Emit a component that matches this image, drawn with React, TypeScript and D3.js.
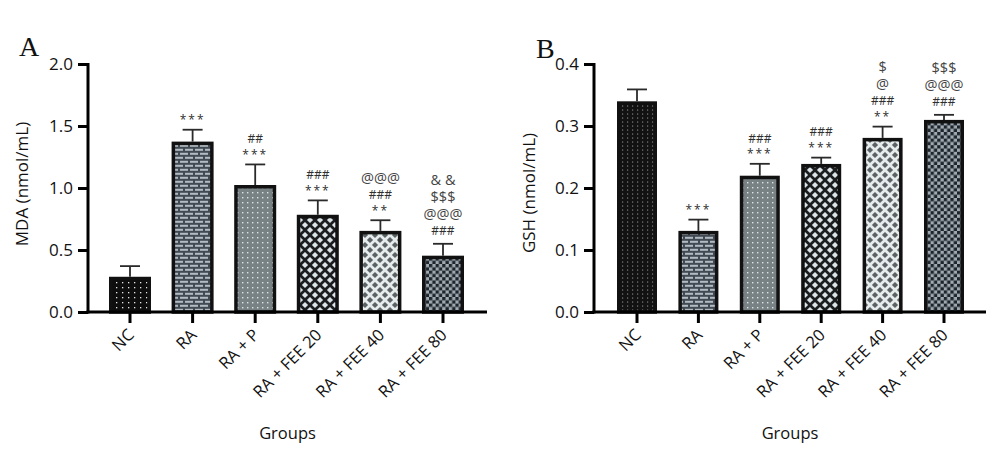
import * as d3 from 'd3'
import { useEffect, useRef } from 'react'

const groups = ['NC', 'RA', 'RA + P', 'RA + FEE 20', 'RA + FEE 40', 'RA + FEE 80']
const fills = ['ncA', 'brick', 'dotGray', 'diaDark', 'diaLight', 'checker']

const mdaMean = [0.27, 1.36, 1.01, 0.77, 0.64, 0.44]
const mdaSem = [0.10, 0.11, 0.18, 0.13, 0.10, 0.11]
const mdaMarks = [[], ['***'], ['***', '##'], ['***', '###'], ['**', '###', '@@@'], ['###', '@@@', '$$$', '& &']]
const mdaTicks = [0, 0.5, 1.0, 1.5, 2.0]

const gshMean = [0.337, 0.128, 0.217, 0.236, 0.278, 0.307]
const gshSem = [0.022, 0.021, 0.022, 0.013, 0.021, 0.011]
const gshMarks = [[], ['***'], ['***', '###'], ['***', '###'], ['**', '###', '@', '$'], ['###', '@@@', '$$$']]
const gshTicks = [0, 0.1, 0.2, 0.3, 0.4]

const FONT = '"Open Sans", "Noto Sans", sans-serif'

type Panel = {
    letter: string
    title: string
    mean: number[]
    sem: number[]
    marks: string[][]
    ticks: number[]
    ncFill: string
    axisX: number
    axisEnd: number
    bandStart: number
    step: number
    barWidth: number
    letterX: number
    letterY: number
    titleX: number
    titleY: number
}

function addPatterns(defs: d3.Selection<SVGDefsElement, unknown, null, undefined>) {
    const pat = (id: string, w: number, h: number, bg: string) => {
        const p = defs.append('pattern').attr('id', id).attr('patternUnits', 'userSpaceOnUse')
            .attr('width', w).attr('height', h)
        p.append('rect').attr('width', w).attr('height', h).attr('fill', bg)
        return p
    }
    const diamond = (cx: number, cy: number, r: number) =>
        `${cx},${cy - r} ${cx + r},${cy} ${cx},${cy + r} ${cx - r},${cy}`

    // NC: white dots on black (sparse for MDA, dense grey for GSH)
    pat('ncA', 6, 5, '#0e0e0e').append('rect').attr('x', 2).attr('y', 2)
        .attr('width', 1.3).attr('height', 1.3).attr('fill', '#e6e6e6')
    pat('ncB', 5, 4, '#121212').append('rect').attr('x', 2).attr('y', 1.5)
        .attr('width', 1.2).attr('height', 1.1).attr('fill', '#8a8a8a')

    // RA: light bricks
    const b = pat('brick', 10, 8, '#414a53')
    b.append('rect').attr('x', 0).attr('y', 0.8).attr('width', 8).attr('height', 2).attr('fill', '#b2bbc2')
    b.append('rect').attr('x', 5).attr('y', 4.8).attr('width', 8).attr('height', 2).attr('fill', '#b2bbc2')
    b.append('rect').attr('x', -5).attr('y', 4.8).attr('width', 8).attr('height', 2).attr('fill', '#b2bbc2')

    // RA + P: pale dots on grey
    pat('dotGray', 5, 5, '#788184').append('rect').attr('x', 2).attr('y', 2)
        .attr('width', 1.4).attr('height', 1.4).attr('fill', '#dfe4e4')

    // diamonds
    const dd = pat('diaDark', 10, 10, '#1b1d1f')
    const dl = pat('diaLight', 10, 10, '#e6ebeb')
    ;[[5, 5], [0, 0], [10, 0], [0, 10], [10, 10]].forEach(([x, y]) => {
        dd.append('polygon').attr('points', diamond(x, y, 3.1)).attr('fill', '#dce4e7')
        dl.append('polygon').attr('points', diamond(x, y, 3.1)).attr('fill', '#5a6265')
    })

    // RA + FEE 80: checkerboard
    const c = pat('checker', 6.6, 6.6, '#a0a9b1')
    c.append('rect').attr('width', 3.3).attr('height', 3.3).attr('fill', '#1d242a')
    c.append('rect').attr('x', 3.3).attr('y', 3.3).attr('width', 3.3).attr('height', 3.3).attr('fill', '#1d242a')
}

function drawPanel(svg: d3.Selection<SVGSVGElement, unknown, null, undefined>, p: Panel) {
    const y0 = 312
    const yTop = 64
    const g = svg.append('g')

    const xScale = d3.scaleBand().domain(groups)
        .range([p.bandStart, p.bandStart + p.step * groups.length])
        .paddingInner(1 - p.barWidth / p.step).paddingOuter((1 - p.barWidth / p.step) / 2)
    const yScale = d3.scaleLinear().domain([0, p.ticks[p.ticks.length - 1]]).range([y0, yTop])

    // bars
    g.append('g').selectAll('rect')
        .data(groups)
        .enter()
        .append('rect')
        .attr('x', d => xScale(d)!)
        .attr('width', xScale.bandwidth())
        .attr('y', (d, i) => yScale(p.mean[i]))
        .attr('height', (d, i) => y0 - yScale(p.mean[i]))
        .attr('fill', (d, i) => `url(#${i === 0 ? p.ncFill : fills[i]})`)
        .attr('stroke', '#111')
        .attr('stroke-width', 3.5)

    // error bars (upper only)
    const eb = g.append('g').attr('stroke', '#2a2a2a').attr('stroke-width', 1.8)
    groups.forEach((grp, i) => {
        const cx = xScale(grp)! + xScale.bandwidth() / 2
        const top = yScale(p.mean[i] + p.sem[i])
        eb.append('line').attr('x1', cx).attr('x2', cx).attr('y1', yScale(p.mean[i]) - 1.75).attr('y2', top)
        eb.append('line').attr('x1', cx - 10).attr('x2', cx + 10).attr('y1', top).attr('y2', top)

        // significance marks stacked above the error bar
        let cy = top - 13
        let prevBig = false
        p.marks[i].forEach((m, k) => {
            const big = /[@$&]/.test(m)
            if (k > 0) cy -= (big || prevBig) ? 17 : 12.5
            const star = m.startsWith('*')
            g.append('text')
                .attr('x', cx)
                .attr('y', cy)
                .attr('dy', star ? '0.62em' : '0.36em')
                .attr('text-anchor', 'middle')
                .attr('font-family', FONT)
                .attr('font-size', big ? 14.5 : 12)
                .attr('font-weight', 500)
                .attr('letter-spacing', star ? 2 : 0)
                .attr('fill', big ? '#444' : '#2e2e2e')
                .text(m)
            prevBig = big
        })
    })

    // y axis
    const yAxis = g.append('g').attr('transform', `translate(${p.axisX}, 0)`)
        .call(d3.axisLeft(yScale).tickValues(p.ticks).tickFormat(d3.format('.1f')).tickSize(10).tickSizeOuter(0).tickPadding(5))
    yAxis.select('.domain').attr('stroke-width', 3).attr('d', `M0,${yTop - 1}V${y0 + 1.5}`)
    yAxis.selectAll('.tick line').attr('stroke-width', 3)
    yAxis.selectAll('text').attr('font-family', FONT).attr('font-size', 17).attr('fill', '#111')

    // x axis
    const xAxis = g.append('g').attr('transform', `translate(0, ${y0})`)
        .call(d3.axisBottom(xScale).tickSize(11).tickSizeOuter(0))
    xAxis.select('.domain').attr('stroke-width', 3).attr('d', `M${p.axisX - 1.5},0H${p.axisEnd}`)
    xAxis.selectAll('.tick line').attr('stroke-width', 3)
    xAxis.selectAll('text')
        .attr('font-family', FONT).attr('font-size', 16.5).attr('fill', '#111')
        .attr('y', null).attr('dy', null)
        .attr('text-anchor', 'end')
        .attr('transform', 'translate(5, 24) rotate(-45)')

    g.append('text')
        .attr('x', (p.axisX + p.axisEnd) / 2)
        .attr('y', 439)
        .attr('text-anchor', 'middle')
        .attr('font-family', FONT).attr('font-size', 16.5).attr('fill', '#111')
        .text('Groups')

    g.append('text')
        .attr('transform', `translate(${p.titleX}, ${p.titleY}) rotate(-90)`)
        .attr('text-anchor', 'middle')
        .attr('font-family', FONT).attr('font-size', 17).attr('fill', '#111')
        .text(p.title)

    g.append('text')
        .attr('x', p.letterX).attr('y', p.letterY)
        .attr('font-family', '"Liberation Serif", serif').attr('font-size', 28).attr('fill', '#111')
        .text(p.letter)
}

function makeChart(svgRef: React.RefObject<SVGSVGElement | null>) {
    const svg = d3.select(svgRef.current!).attr('width', 1000).attr('height', 453)
    svg.selectAll('*').remove()
    svg.append('rect').attr('width', 1000).attr('height', 453).attr('fill', '#fff')
    addPatterns(svg.append('defs'))

    drawPanel(svg, {
        letter: 'A', title: 'MDA (nmol/mL)',
        mean: mdaMean, sem: mdaSem, marks: mdaMarks, ticks: mdaTicks, ncFill: 'ncA',
        axisX: 88, axisEnd: 487, bandStart: 98.7, step: 62.6, barWidth: 38.5,
        letterX: 19, letterY: 56, titleX: 28, titleY: 184,
    })
    drawPanel(svg, {
        letter: 'B', title: 'GSH (nmol/mL)',
        mean: gshMean, sem: gshSem, marks: gshMarks, ticks: gshTicks, ncFill: 'ncB',
        axisX: 594, axisEnd: 986, bandStart: 606.3, step: 61.4, barWidth: 36.5,
        letterX: 536, letterY: 58, titleX: 535, titleY: 193,
    })
}

export default function App() {
    const svgRef = useRef<SVGSVGElement>(null)

    useEffect(() => {
        makeChart(svgRef)
    }, [])

    return (
        <svg ref={svgRef} style={{ position: 'absolute', left: 0, top: 0, display: 'block' }}></svg>
    )
}
